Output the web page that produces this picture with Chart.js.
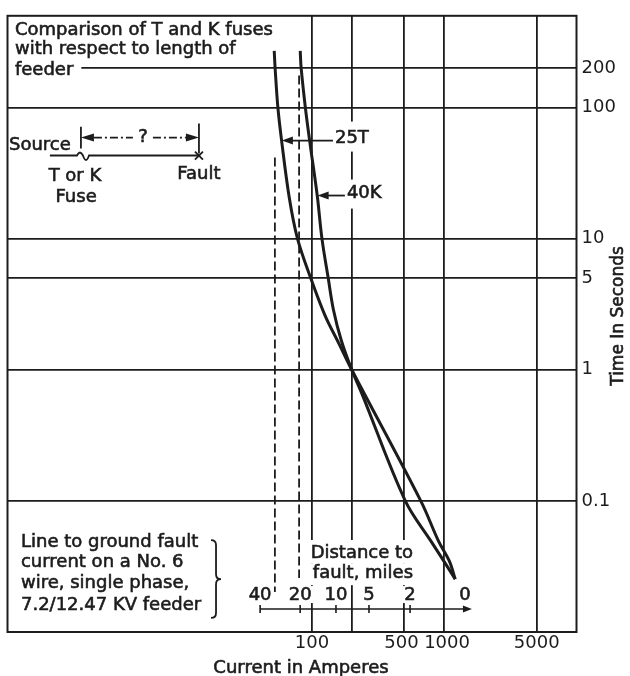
<!DOCTYPE html>
<html>
<head>
<meta charset="utf-8">
<script src="https://cdn.jsdelivr.net/npm/chart.js@4/dist/chart.umd.min.js"></script>
<style>
  html, body { margin: 0; padding: 0; background: #fff; }
  canvas { display: block; }
</style>
</head>
<body>
<canvas id="fuseChart" width="630" height="676"></canvas>
<script>
// Axis ticks
const currentTicks = [100, 200, 500, 1000, 5000];
const currentTickLabels = ['100', '', '500 ', ' 1000', '5000'];
const timeTicks = [0.1, 1, 5, 10, 100, 200];
const timeTickLabels = ['0.1', '1', '5', '10', '100', '200'];

// 25T fuse: current (A) vs time (s)
const amps25T = [51.9, 52.7, 55.3, 59.0, 67.4, 77.8, 97.9, 125.5, 159.7, 200, 665, 906, 1094, 1211];
const secs25T = [270, 200, 100, 55.9, 20.6, 10, 5, 2.60, 1.59, 1, 0.1, 0.0493, 0.0347, 0.0253];

// 40K fuse: current (A) vs time (s)
const amps40K = [81.6, 82.9, 89.2, 96.1, 109.7, 119.1, 132.8, 145.7, 166.8, 200, 239, 508, 794, 994, 1211];
const secs40K = [270, 200, 100, 55.9, 21.3, 10, 5, 2.84, 1.67, 1, 0.655, 0.1, 0.0493, 0.0347, 0.0253];

// Distance-to-fault scale: miles and the fault current at that distance
const faultMiles = [40, 20, 10, 5, 2, 0];
const faultAmps = [40.6, 81.5, 152, 270, 552, 1434];

// Dashed reach lines (fault current at 40 and 20 miles)
const reachAmps = [52.5, 80];
const reachTopSecs = [41.5, 175];
const reachBottomSecs = [0.0202, 0.0258];

const INK = '#1c1c1c';
const FAMILY = '"DejaVu Sans", sans-serif';
const FONT = '18px ' + FAMILY;

const curve = (amps, secs) => amps.map((a, i) => ({ x: a, y: secs[i] }));
const reach = i => [{ x: reachAmps[i], y: reachTopSecs[i] }, { x: reachAmps[i], y: reachBottomSecs[i] }];

// lettering: filled text with a light outline for a heavier stroke
function text(ctx, str, px, py, align, pad) {
  ctx.textAlign = align;
  ctx.textBaseline = 'middle';
  if (pad) {
    const w = ctx.measureText(str).width;
    const left = align === 'left' ? px : align === 'center' ? px - w / 2 : px - w;
    ctx.fillStyle = '#fff';
    ctx.fillRect(left - pad[0], py - pad[1], w + pad[0] + pad[3], pad[1] + pad[2]);
  }
  ctx.fillStyle = INK;
  ctx.strokeStyle = INK;
  ctx.lineWidth = 0.6;
  ctx.setLineDash([]);
  ctx.fillText(str, px, py);
  ctx.strokeText(str, px, py);
}

function arrowHead(ctx, tx, ty, dir, len, half) {
  ctx.beginPath();
  ctx.moveTo(tx, ty);
  ctx.lineTo(tx - dir * len, ty - half);
  ctx.lineTo(tx - dir * len, ty + half);
  ctx.closePath();
  ctx.fill();
}

const figureNotes = {
  id: 'figureNotes',
  beforeDatasetsDraw(chart) {
    const { ctx, chartArea: a, scales: { x, y } } = chart;
    const X = v => x.getPixelForValue(v);
    const Y = v => y.getPixelForValue(v);
    ctx.save();
    ctx.font = FONT;
    ctx.fillStyle = INK;
    ctx.lineCap = 'butt';

    // heading
    text(ctx, 'Comparison of T and K fuses', X(0.569), Y(384.6), 'left');
    text(ctx, 'with respect to length of', X(0.569), Y(275.6), 'left');
    text(ctx, 'feeder', X(0.569), Y(190.7), 'left', [9, 10, 10, 8]);

    // source / fuse / fault sketch
    text(ctx, 'Source', X(0.513), Y(51.2), 'left');
    ctx.strokeStyle = INK;
    const wy = Y(43.0);
    const fx = X(1.86);
    ctx.lineWidth = 1.8;
    ctx.beginPath();
    ctx.moveTo(X(1.046), wy);
    ctx.lineTo(fx - 6, wy);
    ctx.quadraticCurveTo(fx - 3, wy - 6, fx, wy);
    ctx.quadraticCurveTo(fx + 3, wy + 9, fx + 6, wy);
    ctx.lineTo(X(14.0), wy);
    ctx.stroke();
    const fz = X(14.0);
    ctx.beginPath();
    ctx.moveTo(fz - 4, wy - 4); ctx.lineTo(fz + 4, wy + 4);
    ctx.moveTo(fz + 4, wy - 4); ctx.lineTo(fz - 4, wy + 4);
    ctx.stroke();
    // dimension "?"
    const dl = X(1.795), dr = X(14.0), dy = Y(58.9);
    ctx.beginPath();
    ctx.moveTo(dl, Y(71.4)); ctx.lineTo(dl, Y(48.6));
    ctx.moveTo(dr, Y(75.3)); ctx.lineTo(dr, Y(44.6));
    ctx.stroke();
    arrowHead(ctx, dl, dy, -1, 13, 4);
    arrowHead(ctx, dr, dy, 1, 13, 4);
    const qx = X(5.28);
    ctx.setLineDash([8, 3, 2, 3]);
    ctx.beginPath();
    ctx.moveTo(dl + 13, dy); ctx.lineTo(qx - 10, dy);
    ctx.moveTo(qx + 10, dy); ctx.lineTo(dr - 13, dy);
    ctx.stroke();
    ctx.setLineDash([]);
    text(ctx, '?', qx, dy, 'center');
    text(ctx, 'T or K', X(1.618), Y(29.7), 'center');
    text(ctx, 'Fuse', X(1.65), Y(20.6), 'center');
    text(ctx, 'Fault', X(14.0), Y(30.8), 'center');

    // curve labels (break the 200 A grid line)
    text(ctx, '25T', X(149.3), Y(57.9), 'left', [2, 17, 13, 2]);
    text(ctx, '40K', X(183.9), Y(22.05), 'left', [2, 14, 15, 2]);

    // feeder note with brace
    const noteLines = ['Line to ground fault', 'current on a No. 6', 'wire, single phase,', '7.2/12.47 KV feeder'];
    const noteSecs = [0.0485, 0.0341, 0.0236, 0.01605];
    noteLines.forEach((s, i) => text(ctx, s, X(0.632), Y(noteSecs[i]), 'left'));
    const bx = X(18.2), bt = Y(0.0502), bm = Y(0.0253), bb = Y(0.0128);
    ctx.strokeStyle = INK;
    ctx.lineWidth = 1.8;
    ctx.beginPath();
    ctx.moveTo(bx - 3, bt);
    ctx.quadraticCurveTo(bx + 2, bt, bx + 2, bt + 5);
    ctx.lineTo(bx + 2, bm - 5);
    ctx.quadraticCurveTo(bx + 2, bm, bx + 7, bm);
    ctx.quadraticCurveTo(bx + 2, bm, bx + 2, bm + 5);
    ctx.lineTo(bx + 2, bb - 5);
    ctx.quadraticCurveTo(bx + 2, bb, bx - 3, bb);
    ctx.stroke();

    // distance-to-fault scale
    text(ctx, 'Distance to', X(238.6), Y(0.040), 'center', [3, 13, 10, 3]);
    text(ctx, 'fault, miles', X(243), Y(0.0281), 'center', [3, 10, 12, 3]);
    const sy = Y(0.01496);
    const last = faultAmps.length - 1;
    faultMiles.forEach((m, i) => {
      const pad = i === 1 ? [3, 9, 8, 7] : [3, 9, 8, 3];
      text(ctx, String(m), X(faultAmps[i]), sy - 14, 'center', i === last ? null : pad);
    });
    ctx.strokeStyle = INK;
    ctx.lineWidth = 1.6;
    ctx.beginPath();
    ctx.moveTo(X(faultAmps[0]), sy);
    ctx.lineTo(X(faultAmps[last]) + 2, sy);
    faultAmps.slice(0, last).forEach(v => {
      ctx.moveTo(X(v), sy - 4); ctx.lineTo(X(v), sy + 4);
    });
    ctx.stroke();
    arrowHead(ctx, X(faultAmps[last]) + 7, sy, 1, 9, 3.5);

    // frame
    ctx.lineWidth = 2;
    ctx.strokeRect(a.left, a.top, a.width, a.height);

    // axis titles
    ctx.font = '18px ' + FAMILY;
    text(ctx, 'Current in Amperes', (a.left + a.right) / 2 + 9, a.bottom + 36, 'center');
    ctx.font = '17px ' + FAMILY;
    ctx.save();
    ctx.translate(a.right + 42, (a.top + a.bottom) / 2 - 8);
    ctx.rotate(-Math.PI / 2);
    text(ctx, 'Time In Seconds', 0, 0, 'center');
    ctx.restore();
    ctx.restore();
  },
  afterDatasetsDraw(chart) {
    const { ctx, scales: { x, y } } = chart;
    const X = v => x.getPixelForValue(v);
    const Y = v => y.getPixelForValue(v);
    ctx.save();
    ctx.strokeStyle = INK;
    ctx.fillStyle = INK;
    ctx.lineWidth = 1.8;
    // 25T pointer
    let ay = Y(55.9);
    ctx.beginPath(); ctx.moveTo(X(144.2), ay); ctx.lineTo(X(59.3) + 10, ay); ctx.stroke();
    arrowHead(ctx, X(59.3), ay, -1, 11, 4);
    // 40K pointer
    ay = Y(21.3);
    ctx.beginPath(); ctx.moveTo(X(177.5), ay); ctx.lineTo(X(110.5) + 10, ay); ctx.stroke();
    arrowHead(ctx, X(110.5), ay, -1, 11, 4);
    ctx.restore();
  }
};

const lineStyle = { borderColor: INK, pointRadius: 0, showLine: true, fill: false };

new Chart(document.getElementById('fuseChart'), {
  type: 'scatter',
  data: {
    datasets: [
      { label: '25T', data: curve(amps25T, secs25T), borderWidth: 3, tension: 0.35, ...lineStyle },
      { label: '40K', data: curve(amps40K, secs40K), borderWidth: 3, tension: 0.35, ...lineStyle },
      { label: '40 miles', data: reach(0), borderWidth: 1.8, borderDash: [9, 4], ...lineStyle },
      { label: '20 miles', data: reach(1), borderWidth: 1.8, borderDash: [9, 4], ...lineStyle }
    ]
  },
  options: {
    responsive: false,
    animation: false,
    layout: { padding: { left: 7.5, top: 15, right: 0, bottom: 0 } },
    plugins: { legend: { display: false }, tooltip: { enabled: false } },
    scales: {
      x: {
        type: 'logarithmic',
        min: 0.5,
        max: 10000,
        afterBuildTicks: s => { s.ticks = currentTicks.map(v => ({ value: v })); },
        afterFit: s => { s.height = 44; },
        grid: { color: INK, lineWidth: 1.8, drawTicks: false },
        border: { display: false },
        ticks: {
          autoSkip: false, maxRotation: 0, padding: 1, color: INK,
          font: { family: FAMILY, size: 18 },
          callback: v => currentTickLabels[currentTicks.indexOf(v)] ?? ''
        }
      },
      y: {
        type: 'logarithmic',
        position: 'right',
        min: 0.01,
        max: 500,
        afterBuildTicks: s => { s.ticks = timeTicks.map(v => ({ value: v })); },
        afterFit: s => { s.width = 53.5; },
        grid: { color: INK, lineWidth: 1.8, drawTicks: false },
        border: { display: false },
        ticks: {
          autoSkip: false, padding: 5, color: INK,
          font: { family: FAMILY, size: 18 },
          callback: v => timeTickLabels[timeTicks.indexOf(v)] ?? ''
        }
      }
    }
  },
  plugins: [figureNotes]
});
</script>
</body>
</html>
